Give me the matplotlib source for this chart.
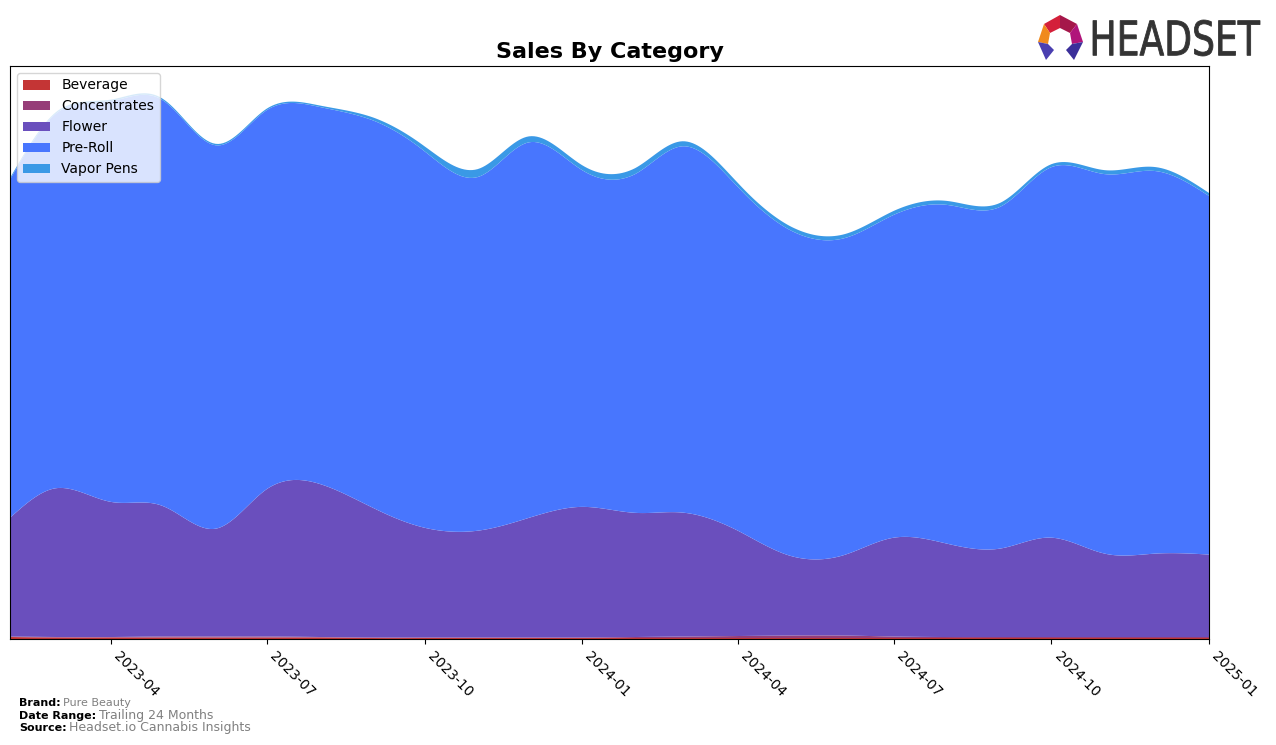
import numpy as np
import pandas as pd
import matplotlib
matplotlib.use("Agg")
import matplotlib.pyplot as plt
from matplotlib.textpath import TextPath
from matplotlib.font_manager import FontProperties
from matplotlib.patches import PathPatch, Polygon
from matplotlib.transforms import Affine2D
import matplotlib.dates as mdates

# monthly sales (arbitrary units, $K)
months = pd.date_range("2023-02-01", "2025-01-01", freq="MS")
categories = ["Beverage", "Concentrates", "Flower", "Pre-Roll", "Vapor Pens"]
colors = ["#c43535", "#963d78", "#6a4fbd", "#4876fe", "#3a99e6"]

beverage = [2.0, 1.5, 1.5, 1.5, 1.5, 1.5, 1.5, 1.0, 1.0, 1.0, 1.0, 1.0,
            1.0, 1.0, 1.0, 1.0, 1.0, 1.0, 1.0, 1.0, 1.0, 1.0, 1.0, 1.0]
concentrates = [0.5, 0.5, 0.5, 1.0, 1.0, 1.0, 0.5, 0.5, 0.5, 0.5, 0.5, 0.5,
                1.0, 1.5, 2.0, 2.5, 2.5, 1.5, 1.0, 1.0, 1.0, 1.0, 1.0, 1.0]
flower = [119.5, 150.0, 136.0, 131.5, 108.5, 148.5, 154.0, 130.5, 110.5, 107.5, 120.5, 131.5,
          125.0, 124.5, 106.0, 80.5, 80.5, 99.5, 94.0, 89.0, 100.0, 84.0, 84.0, 83.0]
pre_roll = [340.5, 378.5, 403.5, 408.5, 386.0, 381.5, 379.5, 390.0, 379.0, 356.0, 378.0, 339.0,
            341.0, 369.0, 346.0, 328.0, 319.0, 325.0, 341.0, 344.0, 373.0, 382.0, 385.0, 361.0]
vapor_pens = [1.5, 1.5, 1.5, 1.5, 1.5, 1.5, 1.5, 3.0, 5.0, 8.0, 6.0, 5.0,
              6.0, 5.0, 4.0, 4.0, 4.0, 4.0, 4.0, 4.0, 3.0, 4.0, 4.0, 3.0]


def smooth(vals, k=20):
    # natural cubic spline through the monthly points, for the rounded look
    v = np.asarray(vals, float)
    n = len(v)
    A = np.zeros((n, n))
    b = np.zeros(n)
    A[0, 0] = A[-1, -1] = 1
    for i in range(1, n - 1):
        A[i, i - 1], A[i, i], A[i, i + 1] = 1, 4, 1
        b[i] = 6 * (v[i + 1] - 2 * v[i] + v[i - 1])
    M = np.linalg.solve(A, b)
    t = np.linspace(0, n - 1, (n - 1) * k + 1)
    i = np.minimum(t.astype(int), n - 2)
    s = t - i
    out = ((1 - s) * v[i] + s * v[i + 1]
           + ((1 - s) ** 3 - (1 - s)) * M[i] / 6 + (s ** 3 - s) * M[i + 1] / 6)
    return t, np.clip(out, 0, None)


xnum = mdates.date2num(months)
series = [beverage, concentrates, flower, pre_roll, vapor_pens]
smoothed = []
for s_ in series:
    t, y = smooth(s_)
    smoothed.append(y)
xs = np.interp(t, np.arange(len(xnum)), xnum)

fig = plt.figure(figsize=(12.76, 7.45), dpi=100)
ax = fig.add_axes([10 / 1276, 1 - 639 / 745, 1199 / 1276, 573 / 745])

ax.stackplot(xs, *smoothed, labels=categories, colors=colors)
ax.set_xlim(xnum[0], xnum[-1])
ax.set_ylim(0, max(np.sum(smoothed, axis=0)) * 1.05)
ax.set_yticks([])
ax.xaxis.set_major_locator(mdates.MonthLocator(bymonth=[1, 4, 7, 10]))
ax.xaxis.set_major_formatter(mdates.DateFormatter("%Y-%m"))
plt.setp(ax.get_xticklabels(), rotation=-45, ha="left", fontsize=10)
ax.set_title("Sales By Category", fontsize=16, fontweight="bold")
ax.legend(loc="upper left", fontsize=10)

# footer
fig.canvas.draw()
renderer = fig.canvas.get_renderer()
rows = [("Brand:", "Pure Beauty", 8, 703), ("Date Range:", "Trailing 24 Months", 9, 716),
        ("Source:", "Headset.io Cannabis Insights", 9, 728)]
for label, value, size, ypix in rows:
    t1 = fig.text(19 / 1276, 1 - ypix / 745, label, fontsize=8, fontweight="bold", va="center")
    bb = t1.get_window_extent(renderer)
    fig.text(bb.x1 / 1276 + 0.002, 1 - ypix / 745, value, fontsize=size, color="#808080", va="center")

# headset logo
tp = TextPath((0, 0), "HEADSET", size=1, prop=FontProperties(family="DejaVu Sans"))
ext = tp.get_extents()
sx = (1260 - 1093) / ext.width
sy = (56 - 20) / ext.height
tr = Affine2D().translate(-ext.x0, -ext.y0).scale(sx, sy).translate(1093, 745 - 56)
fig.patches.append(PathPatch(tr.transform_path(tp), facecolor="#333333", edgecolor="#333333",
                             linewidth=0.6, transform=None, figure=fig))


def logo_poly(pts, color):
    p = [(x, 745 - y) for x, y in pts]
    fig.patches.append(Polygon(p, closed=True, facecolor=color, edgecolor="none",
                               transform=None, figure=fig))


logo_poly([(1044, 24), (1060, 15), (1060, 28), (1050, 33)], "#d4203a")
logo_poly([(1060, 15), (1077, 24), (1070, 33), (1060, 28)], "#a5174a")
logo_poly([(1044, 24), (1050, 33), (1048, 44), (1038, 42)], "#f08a1d")
logo_poly([(1077, 24), (1083, 42), (1072, 44), (1070, 33)], "#b0157a")
logo_poly([(1038, 42), (1048, 44), (1054, 50), (1046, 60)], "#4a3fb0")
logo_poly([(1083, 42), (1072, 44), (1066, 50), (1074, 60)], "#3b2f9a")

fig.savefig("out.png", dpi=100)
